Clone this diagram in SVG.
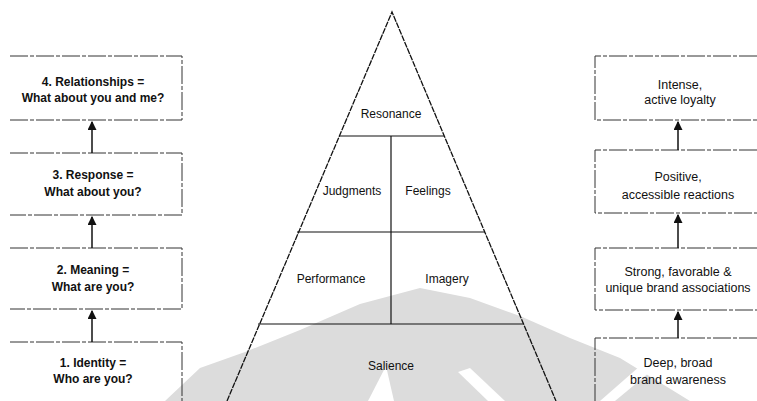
<svg xmlns="http://www.w3.org/2000/svg" width="757" height="401" viewBox="0 0 757 401">
<defs>
<style>
.bx{fill:none;stroke:#333;stroke-width:1;stroke-dasharray:18 2 4 2}
.py{fill:none;stroke:#111;stroke-width:1.3;stroke-dasharray:6 1}
.ln{fill:none;stroke:#111;stroke-width:1.2}
.lt{font-family:"Liberation Sans",Arial,sans-serif;font-size:12px;font-weight:bold;fill:#111;text-anchor:middle}
.rt{font-family:"Liberation Sans",Arial,sans-serif;font-size:12.5px;fill:#111;text-anchor:middle}
.pt{font-family:"Liberation Sans",Arial,sans-serif;font-size:12px;fill:#111;text-anchor:middle}
.ar{fill:none;stroke:#111;stroke-width:1.5}
</style>
<marker id="ah" viewBox="0 0 8 8" refX="7" refY="4" markerWidth="6" markerHeight="6" orient="auto">
<path d="M0,0 L8,4 L0,8 z" fill="#111"/>
</marker>
</defs>
<rect width="757" height="401" fill="#fff"/>
<g id="watermark">
<path d="M165,401 L200,368 L245,352 L300,330 L360,304 L420,288 L470,298 L520,316 L570,338 L620,358 L690,401 Z" fill="#dcdcdc"/>
<path d="M368,401 L386,366 L394,401 Z" fill="#fff"/>
<path d="M458,372 L470,368 L505,401 L488,401 Z" fill="#fff"/>
<path d="M600,401 L640,366 L650,372 L615,401 Z" fill="#fff"/>
</g>
<g id="pyramid">
<path class="py" d="M227,401 L392,12 L556,401"/>
<path class="ln" d="M339,136 L444,136"/>
<path class="ln" d="M297,232 L485,232"/>
<path class="ln" d="M258,324 L523,324"/>
<path class="ln" d="M391,136 L391,324"/>
<text class="pt" x="391" y="118">Resonance</text>
<text class="pt" x="352" y="195">Judgments</text>
<text class="pt" x="428" y="195">Feelings</text>
<text class="pt" x="331" y="283">Performance</text>
<text class="pt" x="447" y="283">Imagery</text>
<text class="pt" x="391" y="370">Salience</text>
</g>
<g id="left4">
<path class="bx" d="M10,56 L182,56 L182,120 L10,120"/>
<text class="lt" x="93" y="86">4. Relationships =</text>
<text class="lt" x="93" y="102">What about you and me?</text>
</g>
<g id="left3">
<path class="bx" d="M10,153 L182,153 L182,215 L10,215"/>
<text class="lt" x="93" y="179">3. Response =</text>
<text class="lt" x="93" y="196">What about you?</text>
</g>
<g id="left2">
<path class="bx" d="M10,248 L182,248 L182,309 L10,309"/>
<text class="lt" x="93" y="274">2. Meaning =</text>
<text class="lt" x="93" y="291">What are you?</text>
</g>
<g id="left1">
<path class="bx" d="M10,342 L182,342 L182,401"/>
<text class="lt" x="93" y="367">1. Identity =</text>
<text class="lt" x="93" y="383">Who are you?</text>
</g>
<g id="right4">
<path class="bx" d="M757,56 L595,56 L595,120 L757,120"/>
<text class="rt" x="680" y="89">Intense,</text>
<text class="rt" x="680" y="104">active loyalty</text>
</g>
<g id="right3">
<path class="bx" d="M757,150 L595,150 L595,213 L757,213"/>
<text class="rt" x="678" y="181">Positive,</text>
<text class="rt" x="678" y="199">accessible reactions</text>
</g>
<g id="right2">
<path class="bx" d="M757,248 L595,248 L595,310 L757,310"/>
<text class="rt" x="678" y="276">Strong, favorable &amp;</text>
<text class="rt" x="678" y="292">unique brand associations</text>
</g>
<g id="right1">
<path class="bx" d="M757,338 L595,338 L595,401"/>
<text class="rt" x="678" y="367">Deep, broad</text>
<text class="rt" x="678" y="384">brand awareness</text>
</g>
<g id="connectors">
<path class="ar" d="M92,153 L92,122" marker-end="url(#ah)"/>
<path class="ar" d="M92,248 L92,217" marker-end="url(#ah)"/>
<path class="ar" d="M92,342 L92,311" marker-end="url(#ah)"/>
<path class="ar" d="M678,150 L678,122" marker-end="url(#ah)"/>
<path class="ar" d="M678,248 L678,215" marker-end="url(#ah)"/>
<path class="ar" d="M678,338 L678,312" marker-end="url(#ah)"/>
</g>
</svg>
